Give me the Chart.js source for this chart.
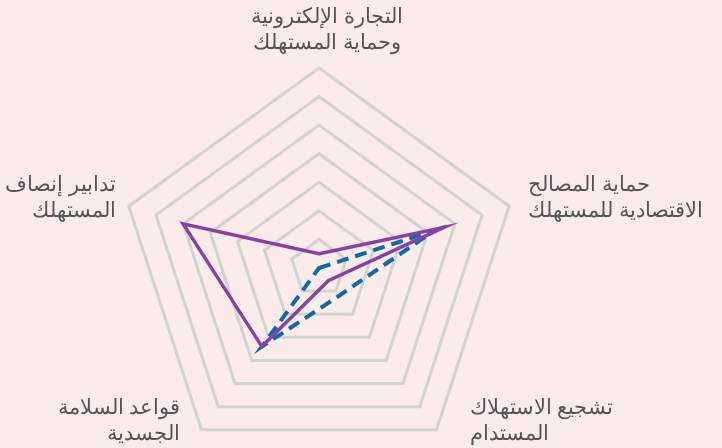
<!DOCTYPE html>
<html>
<head>
<meta charset="utf-8">
<script src="https://cdn.jsdelivr.net/npm/chart.js@4"></script>
<style>
  html, body { margin: 0; padding: 0; background: #f9ecea; overflow: hidden; }
  #wrap { width: 722px; height: 469px; }
</style>
</head>
<body>
<div id="wrap"><canvas id="radar"></canvas></div>
<script>
var axisLabels = [
  ["التجارة الإلكترونية", "وحماية المستهلك"],
  ["حماية المصالح", "الاقتصادية للمستهلك"],
  ["تشجيع الاستهلاك", "المستدام"],
  ["قواعد السلامة", "الجسدية"],
  ["تدابير إنصاف", "المستهلك"]
];
var solidSeries = [0.5, 4.6, 0.55, 3.4, 5.0];
var dashedSeries = [0, 4.25, 1.2, 3.4, 0];

// labels are drawn by hand so they sit beside the corners like the original
var labelPlace = [
  {align: "center", dx: 8, dy: -12, anchor: "bottom"},
  {align: "left", dx: 19, dy: -8, anchor: "middle"},
  {align: "left", dx: 33, dy: -9, anchor: "middle"},
  {align: "right", dx: -21, dy: -9, anchor: "middle"},
  {align: "right", dx: -13, dy: -8, anchor: "middle"}
];
var lineHeight = 26;

var cornerLabels = {
  id: "cornerLabels",
  afterDraw: (chart) => {
    var scale = chart.scales.r;
    var ctx = chart.ctx;
    ctx.save();
    ctx.font = "21px 'Noto Sans'";
    ctx.fillStyle = "#555555";
    ctx.textBaseline = "middle";
    for(var i = 0;i < axisLabels.length;i++) {
      var p = scale.getPointPosition(i, scale.drawingArea);
      var place = labelPlace[i];
      var lines = axisLabels[i];
      var x = p.x + place.dx;
      var y = p.y + place.dy;
      var firstY;
      if(place.anchor == "bottom") {
        firstY = y - (lines.length - 1) * lineHeight - lineHeight / 2;
      }
      else {
        firstY = y - (lines.length - 1) * lineHeight / 2;
      }
      ctx.textAlign = place.align;
      for(var j = 0;j < lines.length;j++) {
        ctx.fillText(lines[j], x, firstY + j * lineHeight);
      }
    }
    ctx.restore();
  }
};

var ctx = document.getElementById("radar").getContext("2d");
var chart = new Chart(ctx, {
  type: "radar",
  data: {
    labels: axisLabels,
    datasets: [{
      data: solidSeries,
      borderColor: "#8a40a2",
      borderWidth: 3.5,
      fill: false,
      pointRadius: 0,
      tension: 0
    }, {
      data: dashedSeries,
      borderColor: "#0f6aa8",
      borderWidth: 4,
      borderDash: [12, 7],
      fill: false,
      pointRadius: 0,
      tension: 0
    }]
  },
  options: {
    responsive: true,
    maintainAspectRatio: false,
    animation: false,
    layout: { padding: { top: 68, bottom: 0, left: 118, right: 202 } },
    plugins: { legend: { display: false }, tooltip: { enabled: false } },
    scales: {
      r: {
        min: 0,
        max: 7,
        ticks: { display: false, stepSize: 1 },
        angleLines: { display: false },
        grid: { color: "#d3d3d1", lineWidth: 3 },
        pointLabels: { display: false }
      }
    }
  },
  plugins: [cornerLabels]
});
</script>
</body>
</html>
